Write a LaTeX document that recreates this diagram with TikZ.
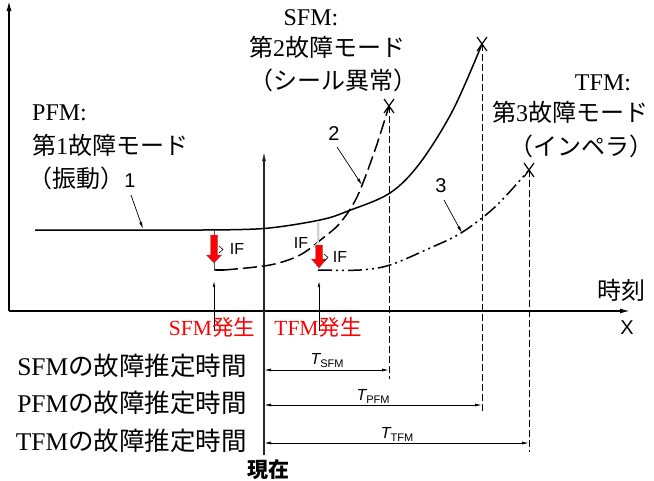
\documentclass[tikz,border=0pt]{standalone}
\usepackage{fontspec}
\setmainfont{Liberation Serif}
\newfontfamily\cjk{Noto Sans CJK JP}
\newfontfamily\isofont{Liberation Sans}
\usetikzlibrary{arrows.meta,calc}
\newcommand{\J}[1]{{\cjk #1}}
\newcommand{\Tsub}[1]{{\isofont\itshape T}\raisebox{-3pt}{\isofont\fontsize{11}{12}\selectfont #1}}
\begin{document}
\begin{tikzpicture}[x=1pt,y=-1pt,
  lbl/.style={font=\fontsize{24}{26}\selectfont, inner sep=0pt},
  lbll/.style={font=\fontsize{25.5}{27}\selectfont, inner sep=0pt},
  redlbl/.style={text=red, font=\fontsize{21.5}{24}\selectfont, inner sep=0pt},
  iso/.style={font=\isofont\fontsize{16}{17}\selectfont, inner sep=0pt},
  num/.style={font=\isofont\fontsize{20}{22}\selectfont, inner sep=0pt},
  tlbl/.style={font=\fontsize{16}{18}\selectfont, inner sep=0pt},
  axisline/.style={line width=1.8pt},
  curveline/.style={line width=1.5pt},
  vdash/.style={line width=0.9pt, dash pattern=on 7pt off 3pt},
  tarrow/.style={line width=0.8pt, {Latex[length=7pt,width=3pt]}-{Latex[length=7pt,width=3pt]}},
  leader/.style={line width=0.7pt, -{Latex[length=7pt,width=3pt]}},
  xmark/.style={line width=1.2pt},
  redarr/.style={fill=red, draw=black!60, line width=0.4pt},
  ifline/.style={line width=0.5pt, draw=black!70}
]
\useasboundingbox (0,0) rectangle (654,480);

% axes
\coordinate (O) at (9,311);
\coordinate (Ytop) at (9,0);
\coordinate (Xend) at (631,311);
\draw[axisline, -{Latex[length=11pt,width=5pt]}] (O) -- (Ytop);
\draw[axisline, -{Latex[length=11pt,width=5pt]}] (O) -- (Xend);
\node[lbl] (jikoku) at (621,290) {\J{時刻}};
\node[num] (xlab) at (627,328) {X};

% present line
\coordinate (Pbot) at (264,455);
\coordinate (Ptop) at (264,152);
\draw[line width=1.1pt, black!85, -{Latex[length=9pt,width=4pt]}] (Pbot) -- (Ptop);
\node[font=\cjk\bfseries\fontsize{21}{24}\selectfont, inner sep=0pt] (now) at (268,470) {現在};

% dashed verticals
\coordinate (Xs) at (389,106);
\coordinate (Xp) at (482,44);
\coordinate (Xt) at (529,170);
\coordinate (Xsb) at (389,379);
\coordinate (Xpb) at (482,413);
\coordinate (Xtb) at (529,452);
\draw[vdash] (Xs) -- (Xsb);
\draw[vdash] (Xp) -- (Xpb);
\draw[vdash] (Xt) -- (Xtb);

% time arrows
\coordinate (Ts0) at (264,370); \coordinate (Ts1) at (389,370);
\coordinate (Tp0) at (264,405); \coordinate (Tp1) at (482,405);
\coordinate (Tt0) at (264,443); \coordinate (Tt1) at (529,443);
\draw[tarrow] (Ts0) -- (Ts1);
\draw[tarrow] (Tp0) -- (Tp1);
\draw[tarrow] (Tt0) -- (Tt1);
\node[tlbl] (tsfm) at (327,361) {\Tsub{SFM}};
\node[tlbl] (tpfm) at (373,396) {\Tsub{PFM}};
\node[tlbl] (ttfm) at (397,434) {\Tsub{TFM}};

% left labels
\node[lbll, anchor=east] (lsfm) at (247,366) {SFM\J{の故障推定時間}};
\node[lbll, anchor=east] (lpfm) at (247,403) {PFM\J{の故障推定時間}};
\node[lbll, anchor=east] (ltfm) at (247,441) {TFM\J{の故障推定時間}};

% occurrence arrows
\coordinate (oa0) at (214,331); \coordinate (oa1) at (214,281);
\coordinate (ob0) at (319,331); \coordinate (ob1) at (319,281);
\draw[line width=0.6pt, -{Latex[length=6pt,width=2.5pt]}] (oa0) -- (oa1);
\draw[line width=0.6pt, -{Latex[length=6pt,width=2.5pt]}] (ob0) -- (ob1);
\node[redlbl] (socc) at (212,327) {SFM\J{発生}};
\node[redlbl] (tocc) at (318,327) {TFM\J{発生}};

% PFM curve
\draw[curveline] (35,230) -- (200,230)
  plot[smooth, tension=0.55] coordinates {(200,230) (264,228.5) (320,220) (348,211) (390,193) (420,163) (453,110) (482,44)};
% SFM curve
\draw[curveline] (215,270) -- (224,270);
\draw[curveline, dash pattern=on 14pt off 5pt]
  plot[smooth, tension=0.55] coordinates {(224,270) (270,265) (300,255) (323,238) (340,223) (357,197) (375,150) (389,106)};
% TFM curve
\draw[curveline, dash pattern=on 14pt off 4pt on 2pt off 4pt on 2pt off 4pt]
  plot[smooth, tension=0.55] coordinates {(318,270) (360,270) (390,265) (430,248) (461,233) (495,207) (529,170)};

% X marks
\foreach \c in {Xs,Xp,Xt}{
  \draw[xmark] ($(\c)+(-5,-7)$) -- ($(\c)+(5,7)$);
  \draw[xmark] ($(\c)+(5,-7)$) -- ($(\c)+(-5,7)$);
}

% red arrows
\coordinate (ra) at (214,235);
\draw[ifline] (214,230) -- (ra);
\draw[ifline] (214,262) -- (214,270) -- (216,270);
\draw[redarr] (ra) ++(-3.5,0) -- ++(7,0) -- ++(0,20) -- ++(4,0) -- ++(-7.5,8) -- ++(-7.5,-8) -- ++(4,0) -- cycle;
\draw[line width=0.6pt] (219,246) -- (223,249.5) -- (219,253);
\node[iso] (if1) at (237,249) {IF};

\coordinate (rb) at (319,245);
\draw[gray, line width=0.4pt, double=white, double distance=1.2pt] (318,221) -- (318,243) -- (314,247);
\draw[redarr] (rb) ++(-3.5,0) -- ++(7,0) -- ++(0,14) -- ++(4,0) -- ++(-7.5,9) -- ++(-7.5,-9) -- ++(4,0) -- cycle;
\draw[line width=0.6pt] (324,254) -- (328,257.5) -- (324,261);
\node[iso] (if2) at (301,243) {IF};
\node[iso] (if3) at (340,257) {IF};

% leaders
\node[num] (n1) at (130,181) {1};
\node[num] (n2) at (334,134) {2};
\node[num] (n3) at (441,186) {3};
\coordinate (c1) at (143,229);
\coordinate (c2) at (362,185);
\coordinate (c3) at (462,233);
\draw[leader] (131,195) -- (c1);
\draw[leader] (337,147) -- (c2);
\draw[leader] (444,200) -- (c3);

% top labels
\node[lbl] (sfm1) at (311,18) {SFM:};
\node[lbl] (sfm2) at (327,47) {\J{第}2\J{故障モード}};
\node[lbl] (sfm3) at (333,80) {\J{（シール異常）}};
\node[lbl, anchor=west] (pfm1) at (32,113) {PFM:};
\node[lbl, anchor=west] (pfm2) at (32,145) {\J{第}1\J{故障モード}};
\node[lbl, anchor=west] (pfm3) at (28,178) {\J{（振動）}};
\node[lbl] (tfm1) at (603,83) {TFM:};
\node[lbl, anchor=west] (tfm2) at (492,112) {\J{第}3\J{故障モード}};
\node[lbl] (tfm3) at (581,146) {\J{（インペラ）}};
\end{tikzpicture}
\end{document}
